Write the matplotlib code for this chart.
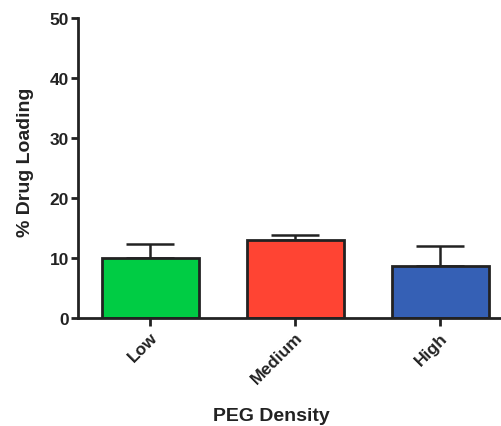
import matplotlib.pyplot as plt
import numpy as np

categories = ["Low", "Medium", "High"]
loading = [10.05, 13.1, 8.7]
err_upper = [2.35, 0.8, 3.3]
bar_colors = ["#00cc44", "#ff4433", "#3560b5"]

plt.rcParams["font.family"] = ["Liberation Sans", "DejaVu Sans"]
plt.rcParams["font.weight"] = "bold"

fig = plt.figure(figsize=(5.01, 4.27), dpi=100)
ax = fig.add_axes([0.156, 0.252, 0.844, 0.703])

x = np.arange(len(categories))
ax.bar(x, loading, width=0.67, color=bar_colors, edgecolor="#222222", linewidth=2, zorder=2)
ax.errorbar(x, loading, yerr=[np.zeros(len(loading)), err_upper], fmt="none",
            ecolor="#222222", elinewidth=1.8, capsize=17.5, capthick=1.8, zorder=1)

ax.set_xlim(-0.497, 2.42)
ax.set_ylim(0, 50)
ax.set_yticks([0, 10, 20, 30, 40, 50])
ax.set_xticks(x)
ax.set_xticklabels(categories, rotation=45, ha="right", rotation_mode="anchor")

for side in ["top", "right"]:
    ax.spines[side].set_visible(False)
for side in ["left", "bottom"]:
    ax.spines[side].set_linewidth(2)
    ax.spines[side].set_color("#222222")

ax.tick_params(axis="y", length=5, width=2, color="#222222", labelsize=12.5, labelcolor="#222222", pad=1.5)
ax.tick_params(axis="x", length=6, width=2, color="#222222", labelsize=12.5, labelcolor="#222222", pad=2)
for lbl in ax.get_xticklabels() + ax.get_yticklabels():
    lbl.set_fontweight("bold")

ax.set_ylabel("% Drug Loading", fontsize=14, fontweight="bold", color="#222222", va="center")
ax.yaxis.set_label_coords(-0.124, 0.522)
ax.set_xlabel("PEG Density", fontsize=14, fontweight="bold", color="#222222", va="center")
ax.xaxis.set_label_coords(0.458, -0.322)

fig.savefig("out.png", dpi=100)
